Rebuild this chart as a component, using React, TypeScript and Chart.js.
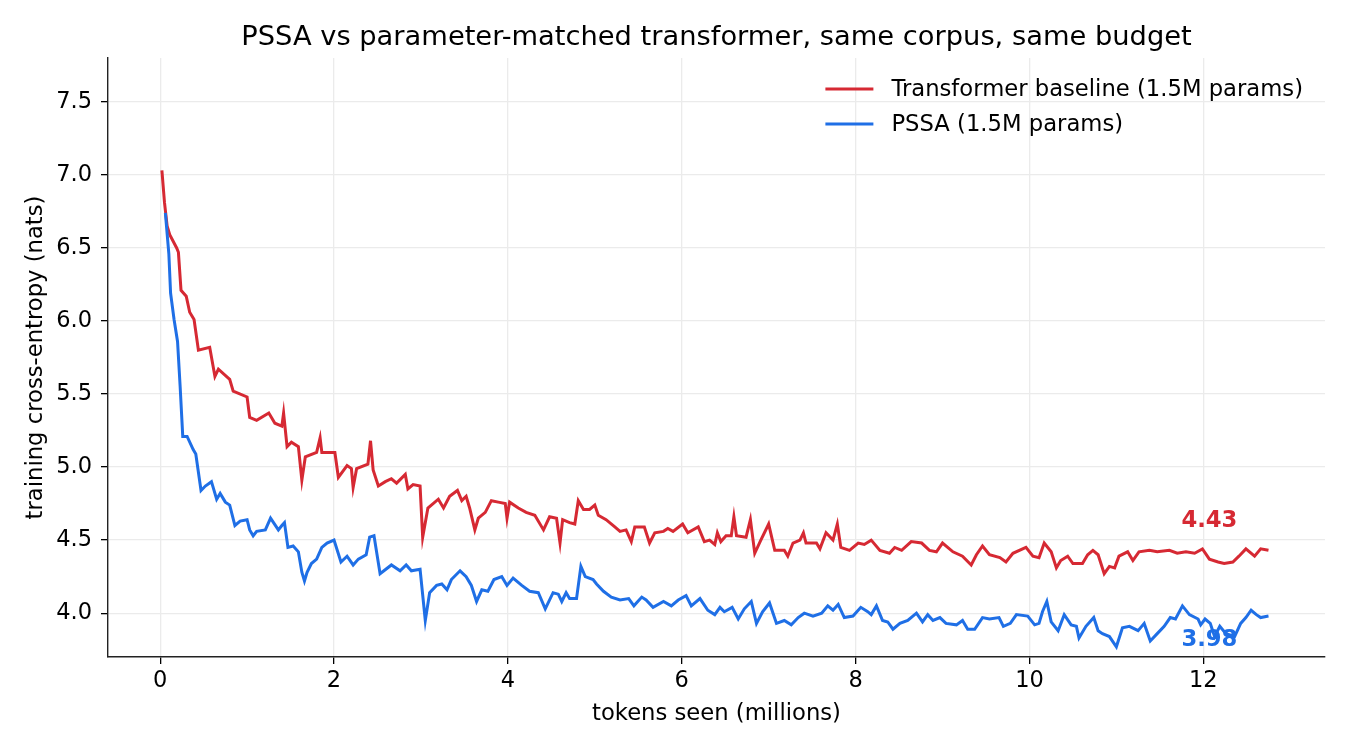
import { useEffect, useRef } from "react"
import { Chart, registerables } from "chart.js"

Chart.register(...registerables)

// token counts are in millions, loss in nats
const transformerTokens = [
  0.02, 0.05, 0.08, 0.11, 0.19, 0.21, 0.24, 0.30, 0.34, 0.39, 0.44, 0.57, 0.63, 0.67, 0.80, 0.84,
  1.00, 1.03, 1.11, 1.25, 1.32, 1.40, 1.42, 1.46, 1.51, 1.59, 1.63, 1.67, 1.80, 1.84, 1.86,
  2.01, 2.05, 2.15, 2.20, 2.22, 2.26, 2.39, 2.42, 2.45, 2.51, 2.59, 2.66, 2.72, 2.82, 2.85, 2.91, 2.99,
  3.02, 3.08, 3.20, 3.26, 3.33, 3.42, 3.47, 3.52, 3.56, 3.62, 3.66, 3.74, 3.81, 3.89, 3.97, 3.99,
  4.02, 4.12, 4.21, 4.31, 4.41, 4.48, 4.56, 4.60, 4.63, 4.71, 4.77, 4.81, 4.87, 4.94, 5.00,
  5.04, 5.13, 5.23, 5.29, 5.36, 5.42, 5.46, 5.57, 5.63, 5.69, 5.79, 5.84, 5.90,
  6.01, 6.07, 6.19, 6.26, 6.32, 6.38, 6.41, 6.45, 6.51, 6.57, 6.60, 6.63, 6.74, 6.79, 6.84, 6.91,
  7.00, 7.07, 7.18, 7.22, 7.28, 7.36, 7.40, 7.43, 7.55, 7.59, 7.66, 7.74, 7.79, 7.83, 7.93,
  8.03, 8.10, 8.18, 8.28, 8.39, 8.45, 8.53, 8.64, 8.76, 8.85, 8.93,
  9.00, 9.12, 9.23, 9.33, 9.39, 9.46, 9.54, 9.66, 9.73, 9.81, 9.96,
  10.04, 10.11, 10.17, 10.25, 10.31, 10.36, 10.44, 10.50, 10.61, 10.67, 10.73, 10.79, 10.86, 10.92, 10.98,
  11.03, 11.13, 11.19, 11.26, 11.38, 11.47, 11.61, 11.70, 11.80, 11.90, 11.99,
  12.07, 12.17, 12.24, 12.34, 12.41, 12.49, 12.59, 12.66, 12.75,
]
const transformerLoss = [
  7.03, 6.81, 6.65, 6.59, 6.50, 6.47, 6.21, 6.17, 6.06, 6.01, 5.80, 5.82, 5.62, 5.67, 5.60, 5.52,
  5.48, 5.34, 5.32, 5.37, 5.30, 5.28, 5.37, 5.14, 5.17, 5.14, 4.91, 5.07, 5.10, 5.20, 5.10,
  5.10, 4.93, 5.01, 4.99, 4.86, 4.99, 5.02, 5.18, 4.98, 4.87, 4.90, 4.92, 4.89, 4.95, 4.85, 4.88, 4.87,
  4.52, 4.72, 4.78, 4.72, 4.80, 4.84, 4.77, 4.80, 4.72, 4.57, 4.65, 4.69, 4.77, 4.76, 4.75, 4.65,
  4.76, 4.72, 4.69, 4.67, 4.57, 4.66, 4.65, 4.48, 4.64, 4.62, 4.61, 4.77, 4.71, 4.71, 4.74,
  4.67, 4.64, 4.59, 4.56, 4.57, 4.49, 4.59, 4.59, 4.48, 4.55, 4.56, 4.58, 4.56,
  4.61, 4.55, 4.59, 4.49, 4.50, 4.47, 4.55, 4.49, 4.53, 4.53, 4.66, 4.53, 4.52, 4.64, 4.41, 4.50,
  4.61, 4.43, 4.43, 4.39, 4.48, 4.50, 4.55, 4.48, 4.48, 4.44, 4.55, 4.50, 4.61, 4.45, 4.43,
  4.48, 4.47, 4.50, 4.43, 4.41, 4.45, 4.43, 4.49, 4.48, 4.43, 4.42,
  4.48, 4.42, 4.39, 4.33, 4.40, 4.46, 4.40, 4.38, 4.35, 4.41, 4.45,
  4.39, 4.38, 4.48, 4.42, 4.31, 4.36, 4.39, 4.34, 4.34, 4.40, 4.43, 4.40, 4.27, 4.32, 4.31,
  4.39, 4.42, 4.36, 4.42, 4.43, 4.42, 4.43, 4.41, 4.42, 4.41, 4.44,
  4.37, 4.35, 4.34, 4.35, 4.39, 4.44, 4.39, 4.44, 4.43,
]

const pssaTokens = [
  0.06, 0.10, 0.12, 0.16, 0.20, 0.23, 0.26, 0.31, 0.38, 0.41, 0.47, 0.52, 0.59, 0.65, 0.69, 0.75, 0.80, 0.86, 0.92,
  1.00, 1.03, 1.07, 1.11, 1.21, 1.27, 1.36, 1.40, 1.43, 1.47, 1.53, 1.59, 1.63, 1.66, 1.69, 1.74, 1.80, 1.86, 1.92,
  2.00, 2.08, 2.15, 2.22, 2.28, 2.37, 2.41, 2.46, 2.53, 2.66, 2.76, 2.83, 2.89, 2.99,
  3.05, 3.10, 3.18, 3.24, 3.30, 3.35, 3.45, 3.52, 3.58, 3.64, 3.70, 3.77, 3.84, 3.93, 3.99,
  4.06, 4.16, 4.25, 4.35, 4.43, 4.52, 4.58, 4.62, 4.67, 4.71, 4.79, 4.84, 4.89, 4.98,
  5.02, 5.10, 5.19, 5.29, 5.39, 5.45, 5.54, 5.59, 5.67, 5.79, 5.88, 5.96,
  6.05, 6.11, 6.21, 6.30, 6.38, 6.44, 6.49, 6.58, 6.65, 6.72, 6.80, 6.86, 6.93,
  7.01, 7.09, 7.18, 7.26, 7.34, 7.41, 7.51, 7.61, 7.68, 7.74, 7.80, 7.87, 7.97,
  8.06, 8.14, 8.18, 8.24, 8.31, 8.37, 8.43, 8.51, 8.60, 8.70, 8.77, 8.83, 8.89, 8.97,
  9.04, 9.16, 9.23, 9.29, 9.37, 9.46, 9.54, 9.65, 9.70, 9.78, 9.85, 9.98,
  10.06, 10.11, 10.15, 10.20, 10.25, 10.33, 10.40, 10.48, 10.54, 10.57, 10.65, 10.74, 10.79, 10.84, 10.92,
  11.00, 11.07, 11.15, 11.25, 11.32, 11.39, 11.47, 11.55, 11.62, 11.68, 11.76, 11.84, 11.94, 11.97,
  12.02, 12.08, 12.13, 12.19, 12.26, 12.36, 12.43, 12.49, 12.55, 12.61, 12.66, 12.75,
]
const pssaLoss = [
  6.74, 6.46, 6.19, 6.01, 5.86, 5.55, 5.21, 5.21, 5.12, 5.09, 4.84, 4.87, 4.90, 4.78, 4.82, 4.76, 4.74, 4.60, 4.63,
  4.64, 4.57, 4.53, 4.56, 4.57, 4.65, 4.57, 4.60, 4.62, 4.45, 4.46, 4.42, 4.28, 4.22, 4.28, 4.34, 4.37, 4.45, 4.48,
  4.50, 4.35, 4.39, 4.33, 4.37, 4.40, 4.52, 4.53, 4.27, 4.33, 4.29, 4.33, 4.29, 4.30,
  3.95, 4.14, 4.19, 4.20, 4.16, 4.23, 4.29, 4.25, 4.19, 4.08, 4.16, 4.15, 4.23, 4.25, 4.19,
  4.24, 4.19, 4.15, 4.14, 4.03, 4.14, 4.13, 4.08, 4.14, 4.10, 4.10, 4.32, 4.25, 4.23,
  4.20, 4.15, 4.11, 4.09, 4.10, 4.05, 4.11, 4.09, 4.04, 4.08, 4.05, 4.09,
  4.12, 4.05, 4.10, 4.02, 3.99, 4.04, 4.01, 4.04, 3.96, 4.03, 4.08, 3.93, 4.01,
  4.07, 3.93, 3.95, 3.92, 3.97, 4.00, 3.98, 4.00, 4.05, 4.02, 4.06, 3.97, 3.98,
  4.04, 4.01, 3.99, 4.05, 3.95, 3.94, 3.89, 3.93, 3.95, 4.00, 3.94, 3.99, 3.95, 3.97,
  3.93, 3.92, 3.95, 3.89, 3.89, 3.97, 3.96, 3.97, 3.91, 3.93, 3.99, 3.98,
  3.92, 3.93, 4.01, 4.08, 3.94, 3.88, 3.99, 3.92, 3.91, 3.83, 3.91, 3.97, 3.88, 3.86, 3.84,
  3.77, 3.90, 3.91, 3.88, 3.93, 3.81, 3.86, 3.91, 3.97, 3.96, 4.05, 3.99, 3.96, 3.92,
  3.96, 3.93, 3.84, 3.91, 3.86, 3.84, 3.93, 3.97, 4.02, 3.99, 3.97, 3.98,
]

const xTicks = [0, 2, 4, 6, 8, 10, 12]
const yTicks = [4.0, 4.5, 5.0, 5.5, 6.0, 6.5, 7.0, 7.5]

const TITLE = "PSSA vs parameter-matched transformer, same corpus, same budget"
const RED = "#d62933"
const BLUE = "#1f6fe6"
const FONT = "'DejaVu Sans', sans-serif"

// title centred over the axes, legend (upper right, no frame), end-of-run value labels
const overlay = {
  id: "overlay",
  afterDatasetsDraw(chart: any) {
    const { ctx, chartArea, scales } = chart
    ctx.save()
    ctx.fillStyle = "#000"
    ctx.font = `27.3px ${FONT}`
    ctx.textAlign = "center"
    ctx.textBaseline = "middle"
    ctx.fillText(TITLE, (chartArea.left + chartArea.right) / 2, chartArea.top - 20)

    ctx.font = `22.7px ${FONT}`
    const ds = chart.data.datasets
    const widest = Math.max(...ds.map((d: any) => ctx.measureText(d.label).width))
    const textX = chartArea.right - 22 - widest
    ds.forEach((d: any, i: number) => {
      const y = chartArea.top + 31 + i * 35
      ctx.strokeStyle = d.borderColor
      ctx.lineWidth = 3
      ctx.beginPath()
      ctx.moveTo(textX - 66, y)
      ctx.lineTo(textX - 18, y)
      ctx.stroke()
      ctx.fillStyle = "#000"
      ctx.textAlign = "left"
      ctx.fillText(d.label, textX, y + 1)
    })

    ctx.font = `bold 22.7px ${FONT}`
    ctx.textAlign = "center"
    ds.forEach((d: any) => {
      const last = d.data[d.data.length - 1]
      const dy = d.labelAbove ? 0.2 : -0.165
      ctx.fillStyle = d.borderColor
      ctx.fillText(
        last.y.toFixed(2),
        scales.x.getPixelForValue(last.x - 0.68),
        scales.y.getPixelForValue(last.y + dy)
      )
    })
    ctx.restore()
  },
}

export default function App() {
  const ref = useRef<HTMLCanvasElement>(null)
  const chartRef = useRef<Chart | null>(null)

  useEffect(() => {
    if (!ref.current) return
    document.body.style.margin = "0"

    const toPoints = (xs: number[], ys: number[]) => xs.map((x, i) => ({ x, y: ys[i] }))

    if (chartRef.current) chartRef.current.destroy()

    chartRef.current = new Chart(ref.current, {
      type: "line",
      data: {
        datasets: [
          {
            label: "Transformer baseline (1.5M params)",
            data: toPoints(transformerTokens, transformerLoss),
            borderColor: RED,
            borderWidth: 3,
            pointRadius: 0,
            tension: 0,
            order: 1,
            labelAbove: true,
          } as any,
          {
            label: "PSSA (1.5M params)",
            data: toPoints(pssaTokens, pssaLoss),
            borderColor: BLUE,
            borderWidth: 3,
            pointRadius: 0,
            tension: 0,
            order: 0,
            labelAbove: false,
          } as any,
        ],
      },
      options: {
        responsive: false,
        animation: false,
        devicePixelRatio: 1,
        layout: { padding: { left: 0, right: 25, top: 58, bottom: 0 } },
        plugins: {
          legend: { display: false },
          tooltip: { enabled: false },
        },
        scales: {
          x: {
            type: "linear",
            min: -0.6,
            max: 13.4,
            afterFit: (s: any) => { s.height = 93 },
            afterBuildTicks: (s: any) => { s.ticks = xTicks.map((v) => ({ value: v })) },
            grid: { color: "#ebebeb", lineWidth: 1.3, tickColor: "#000", tickLength: 7, tickWidth: 1.3 },
            border: { color: "#222", width: 1.4 },
            ticks: {
              color: "#000",
              padding: 4,
              font: { family: FONT, size: 22.5 },
              callback: (v) => String(v),
            },
            title: {
              display: true,
              text: "tokens seen (millions)",
              color: "#000",
              font: { family: FONT, size: 22.7 },
              padding: { top: 0, bottom: 22 },
            },
          },
          y: {
            type: "linear",
            min: 3.7,
            max: 7.8,
            afterFit: (s: any) => { s.width = 108 },
            afterBuildTicks: (s: any) => { s.ticks = yTicks.map((v) => ({ value: v })) },
            grid: { color: "#ebebeb", lineWidth: 1.3, tickColor: "#000", tickLength: 7, tickWidth: 1.3 },
            border: { color: "#222", width: 1.4 },
            ticks: {
              color: "#000",
              padding: 9,
              font: { family: FONT, size: 22.5 },
              callback: (v) => Number(v).toFixed(1),
            },
            title: {
              display: true,
              text: "training cross-entropy (nats)",
              color: "#000",
              font: { family: FONT, size: 22.7 },
              padding: { top: 22, bottom: 0 },
            },
          },
        },
      },
      plugins: [overlay],
    })

    return () => { chartRef.current?.destroy() }
  }, [])

  return (
    <div style={{ width: 1350, height: 750, background: "#fff" }}>
      <canvas ref={ref} width={1350} height={750} />
    </div>
  )
}
